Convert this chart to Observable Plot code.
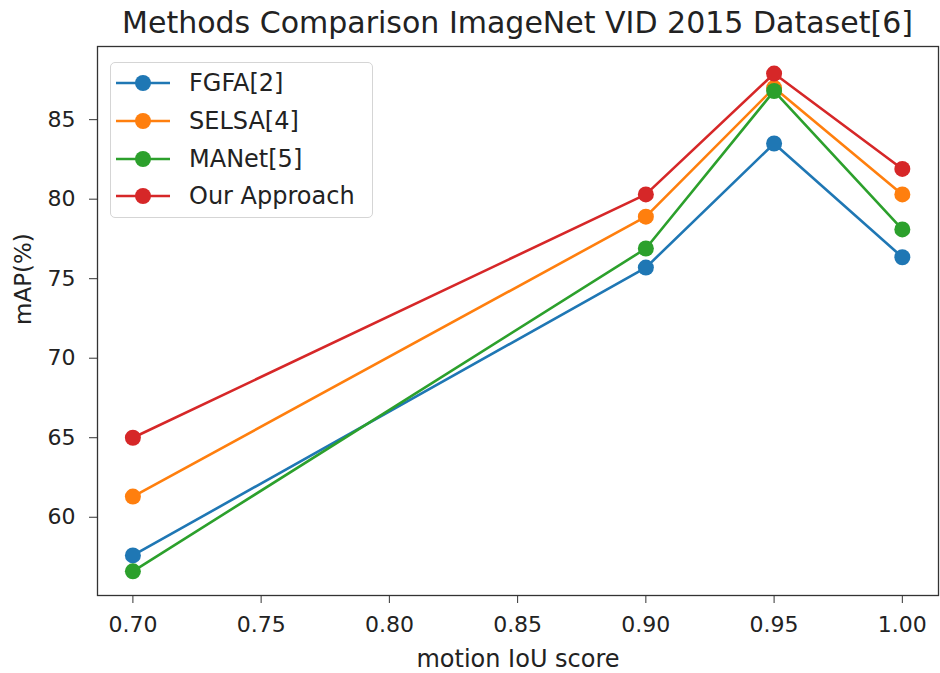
<!DOCTYPE html>
<html><head><meta charset="utf-8">
<script src="https://cdn.jsdelivr.net/npm/d3@7"></script>
<script src="https://cdn.jsdelivr.net/npm/@observablehq/plot@0.6"></script>
<style>
body{margin:0;background:#fff;font-family:"DejaVu Sans",sans-serif;}
#wrap{position:relative;width:940px;height:673px;}
#title{position:absolute;left:97px;width:841px;top:8px;line-height:29px;text-align:center;font-size:30px;color:#222;white-space:nowrap;}
#legend{position:absolute;left:110px;top:62px;width:263px;height:156px;border:1.5px solid #d5d5d5;border-radius:5px;background:rgba(255,255,255,0.85);box-sizing:border-box;}
.item{position:absolute;left:4px;height:30px;display:flex;align-items:center;font-size:24px;color:#222;}
.item svg{margin-right:18px;}
#chart{position:absolute;left:0;top:40px;}
</style></head>
<body><div id="wrap"><div id="chart"></div><div id="title">Methods Comparison ImageNet VID 2015 Dataset[6]</div><div id="legend"></div></div>
<script>
const xs = [0.70, 0.90, 0.95, 1.00];
const seriesNames = ["FGFA[2]", "SELSA[4]", "MANet[5]", "Our Approach"];
const fgfa = [57.6, 75.7, 83.5, 76.35];
const selsa = [61.3, 78.9, 87.0, 80.3];
const manet = [56.6, 76.9, 86.8, 78.1];
const ours = [65.0, 80.3, 87.9, 81.9];
const colors = ["#1f77b4", "#ff7f0e", "#2ca02c", "#d62728"];
const xTicks = [0.70, 0.75, 0.80, 0.85, 0.90, 0.95, 1.00];
const yTicks = [60, 65, 70, 75, 80, 85];

const all = [fgfa, selsa, manet, ours];
const data = [];
all.forEach((vals, i) => vals.forEach((v, j) => data.push({series: seriesNames[i], x: xs[j], y: v})));

const plot = Plot.plot({
  width: 940, height: 633,
  marginLeft: 97, marginRight: 2, marginTop: 6, marginBottom: 78,
  style: {fontFamily: "DejaVu Sans, sans-serif", fontSize: "22px", color: "#222", background: "#fff"},
  x: {domain: [0.6862, 1.0141], label: null},
  y: {domain: [55.08, 89.6], label: null},
  color: {domain: seriesNames, range: colors},
  marks: [
    Plot.axisX({ticks: xTicks, tickFormat: d3.format(".2f"), tickSize: 8, tickPadding: 13, fontSize: 22, stroke: "#333", label: null}),
    Plot.axisY({ticks: yTicks, tickSize: 8, tickPadding: 14, fontSize: 22, stroke: "#333", label: null}),
    Plot.line(data, {x: "x", y: "y", z: "series", stroke: "series", strokeWidth: 2.6}),
    Plot.dot(data, {x: "x", y: "y", fill: "series", r: 8}),
    Plot.frame({stroke: "#333", strokeWidth: 1.3}),
    Plot.text(["motion IoU score"], {frameAnchor: "bottom", dy: 71, fontSize: 24, fill: "#222"}),
    Plot.text(["mAP(%)"], {frameAnchor: "left", dx: -74, dy: 4, rotate: -90, fontSize: 23, fill: "#222"})
  ]
});
document.getElementById("chart").appendChild(plot);

const leg = document.getElementById("legend");
seriesNames.forEach((n, i) => {
  const d = document.createElement("div");
  d.className = "item";
  d.style.top = (5 + i * 37.8) + "px";
  d.innerHTML = `<svg width="56" height="20"><line x1="1" y1="10" x2="55" y2="10" stroke="${colors[i]}" stroke-width="2.6"/><circle cx="28" cy="10" r="8" fill="${colors[i]}"/></svg><span>${n}</span>`;
  leg.appendChild(d);
});
</script></body></html>
